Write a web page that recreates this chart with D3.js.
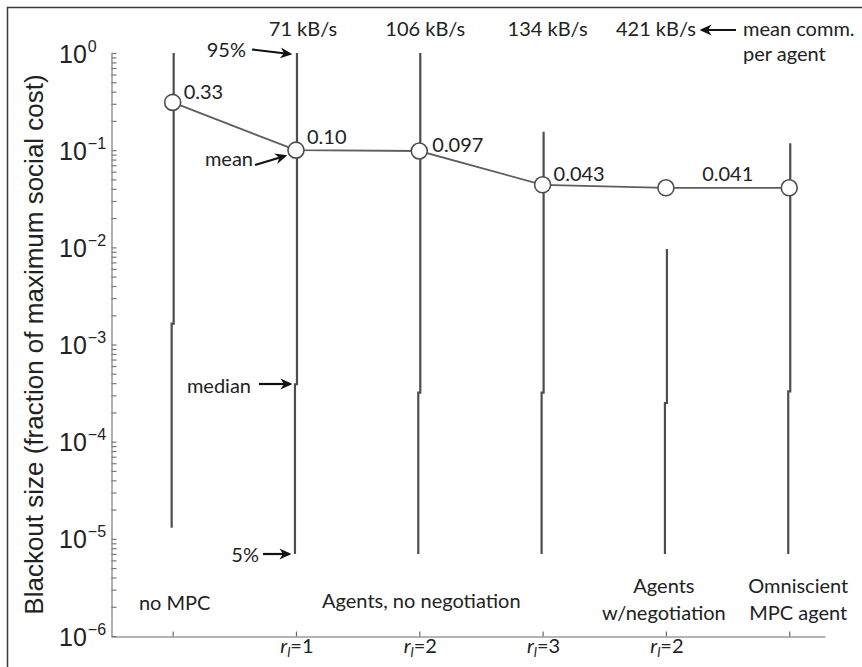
<!DOCTYPE html>
<html><head><meta charset="utf-8">
<script src="https://cdn.jsdelivr.net/npm/d3@7"></script>
<style>body{margin:0;background:#fff} svg{display:block}</style>
</head><body>
<script>
// ---- data ----
const categories = ["no MPC", "Agents r=1", "Agents r=2", "Agents r=3", "Agents w/negotiation r=2", "Omniscient MPC agent"];
const p95 = [1.0, 1.0, 1.0, 0.155, 0.0096, 0.118];
const medians = [1.64e-3, 3.9e-4, 3.2e-4, 3.2e-4, 2.5e-4, 3.3e-4];
const p5 = [1.3e-5, 7e-6, 7e-6, 7e-6, 7e-6, 7e-6];
const means = [0.31, 0.10, 0.098, 0.044, 0.041, 0.041];
const meanLabels = ["0.33", "0.10", "0.097", "0.043", "", "0.041"];
const commLabels = ["", "71 kB/s", "106 kB/s", "134 kB/s", "421 kB/s", ""];
const rLabels = ["", "1", "2", "3", "2", ""];
const yTickExponents = [0, -1, -2, -3, -4, -5, -6];
const groupLabels = [["no MPC"], ["Agents, no negotiation"], ["Agents", "w/negotiation"], ["Omniscient", "MPC agent"]];

// ---- layout / style ----
const W = 862, H = 667;
const annFont = "Lato, 'Open Sans', sans-serif";
const annSize = 20;
const axFont = "'Liberation Sans', Arial, sans-serif";
const svg = d3.select("body").append("svg").attr("width", W).attr("height", H);

const x = d3.scaleLinear().domain([0.5, 6.29]).range([111, 825]);
const y = d3.scaleLog().domain([1e-6, 1]).range([636, 53]);
const idx = categories.map((d, i) => i + 1);

// outer frame (left + top)
svg.append("path").attr("d", "M7.5,667 V7.5 H862").attr("fill", "none").attr("stroke", "#3a3a3a").attr("stroke-width", 1.5);

// y axis
const yTicks = [];
for (let e = -6; e < 0; e++) for (let m = 1; m <= 9; m++) yTicks.push(m * Math.pow(10, e));
yTicks.push(1);
const gy = svg.append("g").attr("transform", "translate(111.5,0)")
  .call(d3.axisLeft(y).tickValues(yTicks).tickSizeInner(-5).tickSizeOuter(0).tickFormat(""));
gy.selectAll("path,line").attr("stroke", "#7a7a7a").attr("stroke-width", 1.2);

// x axis
const gx = svg.append("g").attr("transform", "translate(0,636.5)")
  .call(d3.axisBottom(x).tickValues(idx).tickSizeInner(-5).tickSizeOuter(0).tickFormat(""));
gx.selectAll("path,line").attr("stroke", "#6a6a6a").attr("stroke-width", 1.2);

// y tick labels 10^e
yTickExponents.forEach(e => {
  const t = svg.append("text").attr("x", 59).attr("y", y(Math.pow(10, e)) + 9.5)
    .attr("font-family", axFont).attr("font-size", 25).attr("fill", "#222");
  t.append("tspan").text("10");
  t.append("tspan").attr("font-size", 16).attr("dy", -11).attr("dx", 1).text(e === 0 ? "0" : "\u2212" + (-e));
});

// y axis title
svg.append("text").attr("transform", `translate(43,${(y(1e-6) + y(1)) / 2}) rotate(-90)`)
  .attr("text-anchor", "middle").attr("font-family", axFont).attr("font-size", 26).attr("fill", "#222")
  .text("Blackout size (fraction of maximum social cost)");

// x tick labels r_l = n
rLabels.forEach((r, i) => {
  if (!r) return;
  const t = svg.append("text").attr("x", x(i + 1) + 1).attr("y", 653).attr("text-anchor", "middle")
    .attr("font-family", annFont).attr("font-size", annSize).attr("fill", "#222");
  t.append("tspan").attr("font-style", "italic").text("r");
  t.append("tspan").attr("font-style", "italic").attr("font-size", 14).attr("dy", 4).text("l");
  t.append("tspan").attr("dy", -4).text("=" + r);
});

// group labels
const groupPos = [[x(1) + 2, [610]], [x(3) + 2, [608]], [x(5) - 2, [593, 620]], [x(6) + 9, [593, 620]]];
groupLabels.forEach((lines, g) => {
  lines.forEach((ln, k) => {
    svg.append("text").attr("x", groupPos[g][0]).attr("y", groupPos[g][1][k]).attr("text-anchor", "middle")
      .attr("font-family", annFont).attr("font-size", annSize).attr("fill", "#222").text(ln);
  });
});

// percentile lines (5% -> median -> 95%)
svg.append("g").selectAll("path").data(idx).join("path")
  .attr("d", (d, i) => `M${x(d) - 1},${y(p5[i])} V${y(medians[i])} H${x(d) + 1} V${y(p95[i])}`)
  .attr("fill", "none").attr("stroke", "#4d4d4d").attr("stroke-width", 2.2);

// mean line
svg.append("path").datum(idx)
  .attr("d", d3.line().x(d => x(d)).y((d, i) => y(means[i])))
  .attr("fill", "none").attr("stroke", "#5e5e5e").attr("stroke-width", 1.8);
svg.append("g").selectAll("circle").data(idx).join("circle")
  .attr("cx", d => x(d)).attr("cy", (d, i) => y(means[i])).attr("r", 8)
  .attr("fill", "#fff").attr("stroke", "#4d4d4d").attr("stroke-width", 1.6);

// mean value labels
const labOff = [[11, -3, "start"], [11, -6, "start"], [13, 1, "start"], [11, -4, "start"], [0, 0, "start"], [-61.5, -7, "middle"]];
meanLabels.forEach((l, i) => {
  if (!l) return;
  svg.append("text").attr("x", x(i + 1) + labOff[i][0]).attr("y", y(means[i]) + labOff[i][1])
    .attr("text-anchor", labOff[i][2]).attr("font-family", annFont).attr("font-size", annSize).attr("fill", "#222").text(l);
});

// communication labels
const commDx = [0, 7, 6, 5, -10, 0];
commLabels.forEach((c, i) => {
  if (!c) return;
  svg.append("text").attr("x", x(i + 1) + commDx[i]).attr("y", 36).attr("text-anchor", "middle")
    .attr("font-family", annFont).attr("font-size", annSize).attr("fill", "#222").text(c);
});
svg.append("text").attr("x", 743).attr("y", 36).attr("font-family", annFont).attr("font-size", annSize).attr("fill", "#222").text("mean comm.");
svg.append("text").attr("x", 743).attr("y", 61).attr("font-family", annFont).attr("font-size", annSize).attr("fill", "#222").text("per agent");

// arrows
const defs = svg.append("defs");
defs.append("marker").attr("id", "ah").attr("viewBox", "0 -5 10 10").attr("refX", 8).attr("refY", 0)
  .attr("markerWidth", 12).attr("markerHeight", 12).attr("markerUnits", "userSpaceOnUse").attr("orient", "auto")
  .append("path").attr("d", "M0,-4.5 L10,0 L0,4.5 L3,0 Z").attr("fill", "#111");
const arrows = [
  [[252, 49.5], [290, 54]],
  [[255, 165], [285, 156]],
  [[259, 384], [290, 384]],
  [[263, 554], [289, 554]],
  [[736, 30], [702, 30]]
];
arrows.forEach(a => {
  svg.append("line").attr("x1", a[0][0]).attr("y1", a[0][1]).attr("x2", a[1][0]).attr("y2", a[1][1])
    .attr("stroke", "#111").attr("stroke-width", 2.2).attr("marker-end", "url(#ah)");
});
const annTexts = [["95%", 246, 57], ["mean", 253, 166], ["median", 251, 393], ["5%", 259, 562]];
annTexts.forEach(a => {
  svg.append("text").attr("x", a[1]).attr("y", a[2]).attr("text-anchor", "end")
    .attr("font-family", annFont).attr("font-size", annSize).attr("fill", "#222").text(a[0]);
});
</script>
</body></html>
